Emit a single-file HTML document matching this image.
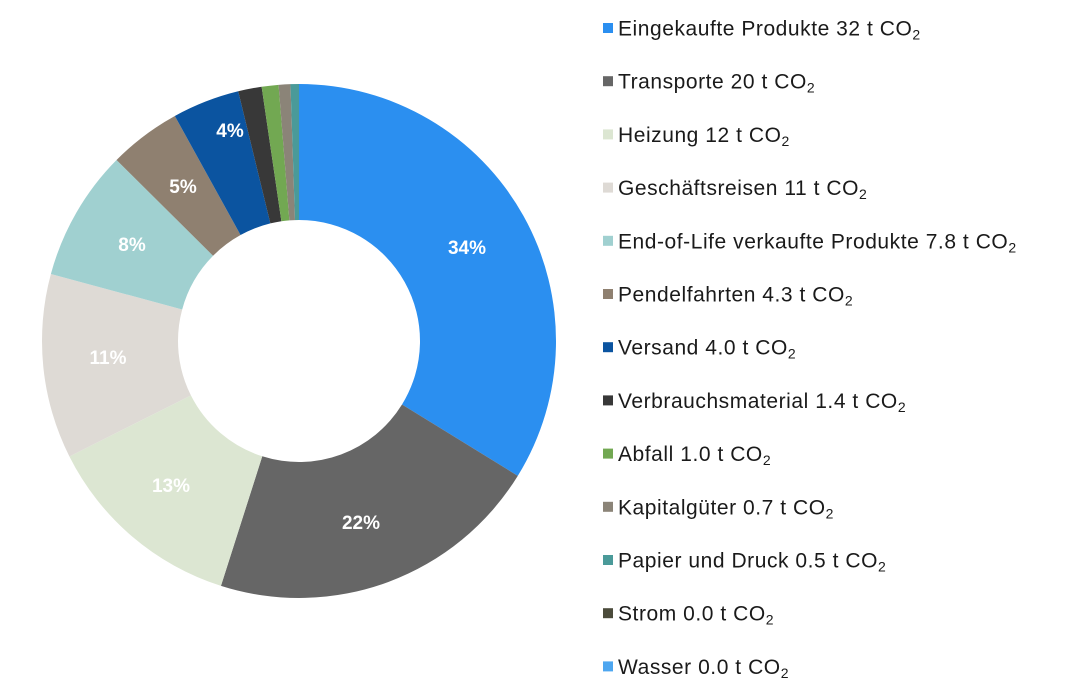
<!DOCTYPE html>
<html><head><meta charset="utf-8"><style>
html,body{margin:0;padding:0;background:#fff;}
svg{display:block;font-family:"Liberation Sans",Arial,sans-serif;}
</style></head><body>
<svg id="s" width="1078" height="680" viewBox="0 0 1078 680" xmlns="http://www.w3.org/2000/svg">
<g id="pie"></g>
<g fill="#fff" font-weight="bold" font-size="19" text-anchor="middle">
<text x="467" y="254">34%</text>
<text x="361" y="529">22%</text>
<text x="171" y="492">13%</text>
<text x="108" y="364">11%</text>
<text x="132" y="251">8%</text>
<text x="183" y="193">5%</text>
<text x="230" y="137">4%</text>
</g>
<g id="leg" font-size="21" fill="#1a1a1a"></g>
</svg>
<script>
var d=[["Eingekaufte Produkte 32 t CO",32,"#2b8ff0"],["Transporte 20 t CO",20,"#666666"],["Heizung 12 t CO",12,"#dce6d2"],["Geschäftsreisen 11 t CO",11,"#dedad5"],["End-of-Life verkaufte Produkte 7.8 t CO",7.8,"#a0d0d0"],["Pendelfahrten 4.3 t CO",4.3,"#8f8070"],["Versand 4.0 t CO",4.0,"#0b54a0"],["Verbrauchsmaterial 1.4 t CO",1.4,"#383838"],["Abfall 1.0 t CO",1.0,"#72a852"],["Kapitalgüter 0.7 t CO",0.7,"#8b8478"],["Papier und Druck 0.5 t CO",0.5,"#4a9a99"],["Strom 0.0 t CO",0,"#4b4b3b"],["Wasser 0.0 t CO",0,"#4da6f0"]];
var tot=0;d.forEach(function(e){tot+=e[1]});
var cx=299,cy=341,R=257,r=121,a=0,p="";
function pt(rad,ang){return [cx+rad*Math.sin(ang),cy-rad*Math.cos(ang)];}
d.forEach(function(e){if(!e[1])return;var a2=a+e[1]/tot*2*Math.PI;var l=(a2-a)>Math.PI?1:0;
var p1=pt(R,a),p2=pt(R,a2),p3=pt(r,a2),p4=pt(r,a);
p+='<path fill="'+e[2]+'" d="M'+p1+' A'+R+','+R+' 0 '+l+' 1 '+p2+' L'+p3+' A'+r+','+r+' 0 '+l+' 0 '+p4+' Z"/>';a=a2;});
document.getElementById("pie").innerHTML=p;
var g="";d.forEach(function(e,i){var y=28+i*53.2;
g+='<rect x="603" y="'+(y-5)+'" width="10" height="10" fill="'+e[2]+'"/>';
g+='<text x="618" y="'+(y+7.5)+'" letter-spacing="0.55">'+e[0]+'<tspan font-size="14" dy="4">2</tspan></text>';});
document.getElementById("leg").innerHTML=g;
</script>
</body></html>
